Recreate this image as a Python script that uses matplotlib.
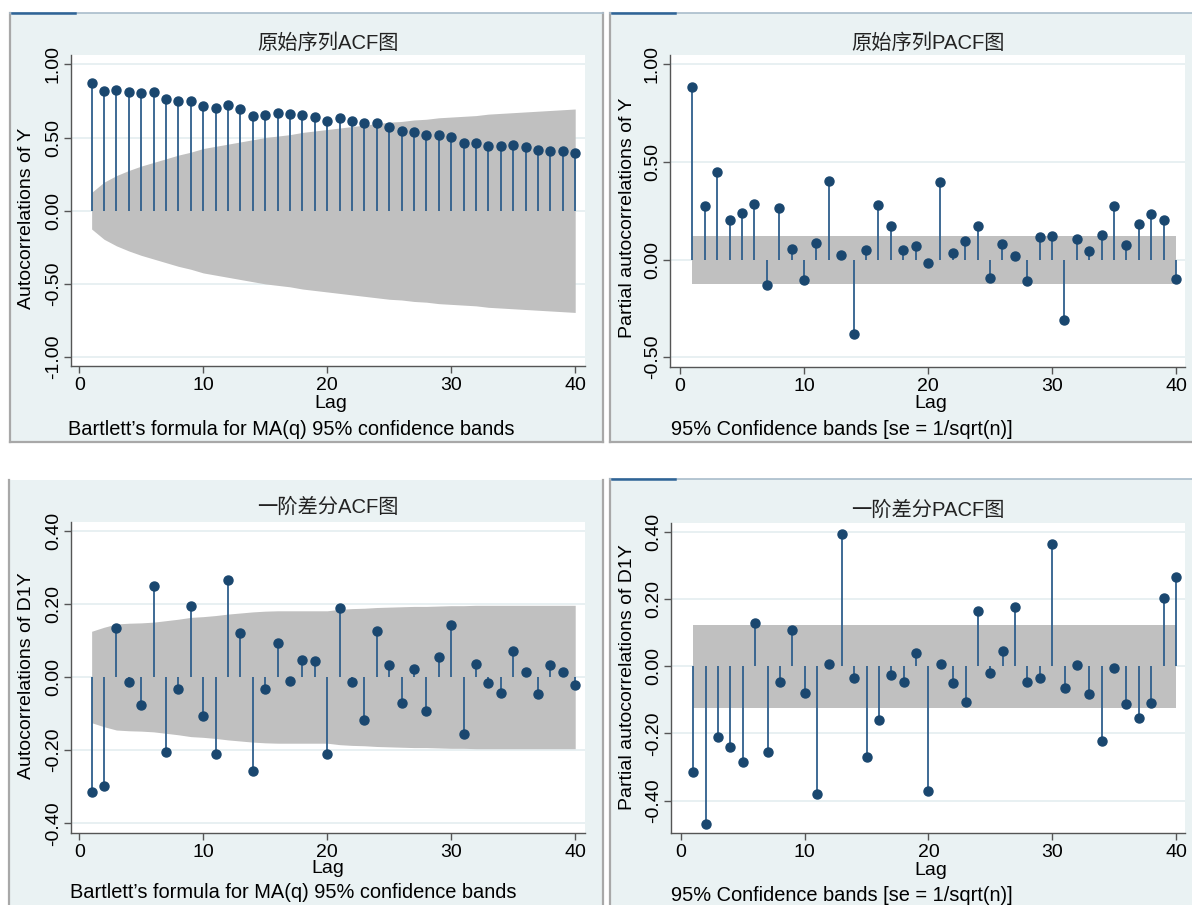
import matplotlib
matplotlib.use('Agg')
import matplotlib.pyplot as plt
from matplotlib.patches import Rectangle
from matplotlib.lines import Line2D

plt.rcParams['font.family'] = ['Liberation Sans', 'Noto Sans CJK SC']
plt.rcParams['axes.unicode_minus'] = False

W, H = 1192, 905

# ---- data ----
lags = list(range(1, 41))

acf_y = [0.875, 0.82, 0.825, 0.814, 0.807, 0.814, 0.764, 0.752, 0.752, 0.716,
         0.70, 0.723, 0.695, 0.645, 0.652, 0.666, 0.661, 0.657, 0.643, 0.614,
         0.634, 0.616, 0.602, 0.602, 0.575, 0.548, 0.536, 0.516, 0.518, 0.507,
         0.461, 0.461, 0.445, 0.445, 0.45, 0.436, 0.416, 0.411, 0.407, 0.395]
acf_y_band = [0.125, 0.195, 0.24, 0.275, 0.305, 0.33, 0.355, 0.38, 0.40, 0.425,
              0.44, 0.455, 0.47, 0.485, 0.50, 0.51, 0.52, 0.535, 0.545, 0.555,
              0.565, 0.575, 0.585, 0.595, 0.605, 0.61, 0.62, 0.625, 0.635, 0.64,
              0.645, 0.65, 0.66, 0.665, 0.67, 0.675, 0.68, 0.685, 0.69, 0.695]

pacf_y = [0.882, 0.273, 0.451, 0.201, 0.238, 0.286, -0.128, 0.262, 0.055, -0.102,
          0.087, 0.402, 0.022, -0.38, 0.048, 0.279, 0.174, 0.051, 0.068, -0.017,
          0.399, 0.034, 0.097, 0.172, -0.095, 0.082, 0.02, -0.112, 0.118, 0.119,
          -0.31, 0.106, 0.044, 0.128, 0.273, 0.073, 0.184, 0.235, 0.204, -0.10]
pacf_y_band = [0.123] * 40

acf_d1y = [-0.314, -0.299, 0.133, -0.014, -0.077, 0.249, -0.206, -0.033, 0.195, -0.107,
           -0.21, 0.265, 0.12, -0.257, -0.033, 0.092, -0.012, 0.046, 0.045, -0.21,
           0.188, -0.013, -0.117, 0.126, 0.034, -0.072, 0.023, -0.094, 0.055, 0.141,
           -0.155, 0.035, -0.016, -0.045, 0.072, 0.015, -0.047, 0.034, 0.015, -0.023]
acf_d1y_band = [0.125, 0.136, 0.145, 0.147, 0.148, 0.150, 0.154, 0.158, 0.163, 0.165,
                0.168, 0.172, 0.175, 0.178, 0.180, 0.181, 0.181, 0.181, 0.181, 0.181,
                0.185, 0.187, 0.188, 0.190, 0.191, 0.192, 0.193, 0.193, 0.194, 0.195,
                0.195, 0.196, 0.196, 0.196, 0.196, 0.196, 0.196, 0.196, 0.196, 0.196]

pacf_d1y = [-0.316, -0.47, -0.21, -0.241, -0.285, 0.127, -0.255, -0.048, 0.108, -0.079,
            -0.379, 0.006, 0.394, -0.036, -0.27, -0.159, -0.025, -0.047, 0.04, -0.372,
            0.008, -0.051, -0.105, 0.165, -0.02, 0.046, 0.176, -0.048, -0.036, 0.362,
            -0.065, 0.003, -0.082, -0.222, -0.006, -0.112, -0.155, -0.108, 0.202, 0.266]
pacf_d1y_band = [0.123] * 40

ticks_big = [1.0, 0.5, 0.0, -0.5, -1.0]
ticks_big_lab = ['1.00', '0.50', '0.00', '-0.50', '-1.00']
ticks_pacf = [1.0, 0.5, 0.0, -0.5]
ticks_pacf_lab = ['1.00', '0.50', '0.00', '-0.50']
ticks_small = [0.4, 0.2, 0.0, -0.2, -0.4]
ticks_small_lab = ['0.40', '0.20', '0.00', '-0.20', '-0.40']
xticks = [0, 10, 20, 30, 40]

note_acf = 'Bartlett\u2019s formula for MA(q) 95% confidence bands'
note_pacf = '95% Confidence bands [se = 1/sqrt(n)]'

BG = '#EAF2F3'
BAND = '#C0C0C0'
NAVY = '#1A476F'
STEM = '#2F5F8C'
AXC = '#555555'
FS = 14

fig = plt.figure(figsize=(W / 100, H / 100), dpi=100)


def fx(x):
    return x / W


def fy(y):
    return 1 - y / H


def panel_bg(x0, y0, x1, y1, accent):
    fig.patches.append(Rectangle((fx(x0), fy(y1)), (x1 - x0) / W, (y1 - y0) / H,
                                 transform=fig.transFigure, facecolor=BG,
                                 edgecolor='none', zorder=-5))
    # left / right / bottom frame
    for xs, ys in [([x0, x0], [y0, y1]), ([x1, x1], [y0, y1]), ([x0, x1], [y1, y1])]:
        fig.lines.append(Line2D([fx(v) for v in xs], [fy(v) for v in ys],
                                transform=fig.transFigure, color='#A8A8A8', lw=1.6,
                                zorder=-4))
    if accent:
        fig.lines.append(Line2D([fx(x0), fx(x1)], [fy(y0), fy(y0)],
                                transform=fig.transFigure, color='#A9BCCB', lw=1.2,
                                zorder=-4))
        fig.lines.append(Line2D([fx(x0 + 2), fx(x0 + 65)], [fy(y0), fy(y0)],
                                transform=fig.transFigure, color='#2F6497', lw=1.8,
                                zorder=-4))


panel_bg(10, 13, 603, 442, True)
panel_bg(610, 13, 1200, 442, True)
panel_bg(9, 480, 603, 920, False)
panel_bg(610, 479, 1200, 920, True)

panels = [
    dict(box=(70.8, 55, 585, 366), xlim=(-0.68, 40.79), ylim=(-1.061, 1.064),
         vals=acf_y, band=acf_y_band, yt=ticks_big, ytl=ticks_big_lab,
         title='原始序列ACF图', tpos=(328, 43), ylab='Autocorrelations of Y',
         ylpos=(27, 218), lagpos=(331, 403), note=note_acf, npos=(68, 429)),
    dict(box=(670, 55, 1185, 367), xlim=(-0.8, 40.73), ylim=(-0.55, 1.048),
         vals=pacf_y, band=pacf_y_band, yt=ticks_pacf, ytl=ticks_pacf_lab,
         title='原始序列PACF图', tpos=(928, 43), ylab='Partial autocorrelations of Y',
         ylpos=(628, 218), lagpos=(931, 403), note=note_pacf, npos=(671, 429)),
    dict(box=(70.8, 521.7, 585, 832.7), xlim=(-0.68, 40.79), ylim=(-0.4257, 0.4246),
         vals=acf_d1y, band=acf_d1y_band, yt=ticks_small, ytl=ticks_small_lab,
         title='一阶差分ACF图', tpos=(328, 507), ylab='Autocorrelations of D1Y',
         ylpos=(27, 676), lagpos=(328, 868), note=note_acf, npos=(70, 892)),
    dict(box=(671, 522.7, 1185, 833.3), xlim=(-0.8, 40.73), ylim=(-0.497, 0.4268),
         vals=pacf_d1y, band=pacf_d1y_band, yt=ticks_small, ytl=ticks_small_lab,
         title='一阶差分PACF图', tpos=(928, 510), ylab='Partial autocorrelations of D1Y',
         ylpos=(628, 677), lagpos=(931, 870), note=note_pacf, npos=(671, 895)),
]

for p in panels:
    l, t, r, b = p['box']
    ax = fig.add_axes([fx(l), fy(b), (r - l) / W, (b - t) / H])
    ax.set_facecolor('white')
    ax.set_xlim(*p['xlim'])
    ax.set_ylim(*p['ylim'])
    ax.set_axisbelow(True)
    ax.yaxis.grid(True, color='#E4EEF0', lw=1.2)
    lo = [-v for v in p['band']]
    ax.fill_between(lags, lo, p['band'], color=BAND, lw=0, zorder=1)
    ax.vlines(lags, 0, p['vals'], color=STEM, lw=1.3, zorder=2)
    ax.plot(lags, p['vals'], 'o', color=NAVY, ms=6.5, mec=NAVY, zorder=3)

    ax.set_xticks(xticks)
    ax.set_xticklabels([str(v) for v in xticks], fontsize=FS)
    ax.set_yticks(p['yt'])
    ax.set_yticklabels(p['ytl'], fontsize=FS, rotation=90, va='center')
    ax.tick_params(axis='both', direction='out', length=5, width=1, color=AXC, pad=3)
    ax.tick_params(axis='y', pad=1.5)
    for s in ['top', 'right']:
        ax.spines[s].set_visible(False)
    for s in ['left', 'bottom']:
        ax.spines[s].set_color(AXC)
        ax.spines[s].set_linewidth(1.0)

    fig.text(fx(p['tpos'][0]), fy(p['tpos'][1]), p['title'], fontsize=14.6,
             ha='center', va='center', color='#222222')
    fig.text(fx(p['ylpos'][0]), fy(p['ylpos'][1]), p['ylab'], fontsize=FS,
             ha='center', va='center', rotation=90)
    fig.text(fx(p['lagpos'][0]), fy(p['lagpos'][1]), 'Lag', fontsize=FS,
             ha='center', va='center')
    fig.text(fx(p['npos'][0]), fy(p['npos'][1]), p['note'], fontsize=14.4,
             ha='left', va='center')

fig.savefig('out.png', dpi=100, facecolor='white')
